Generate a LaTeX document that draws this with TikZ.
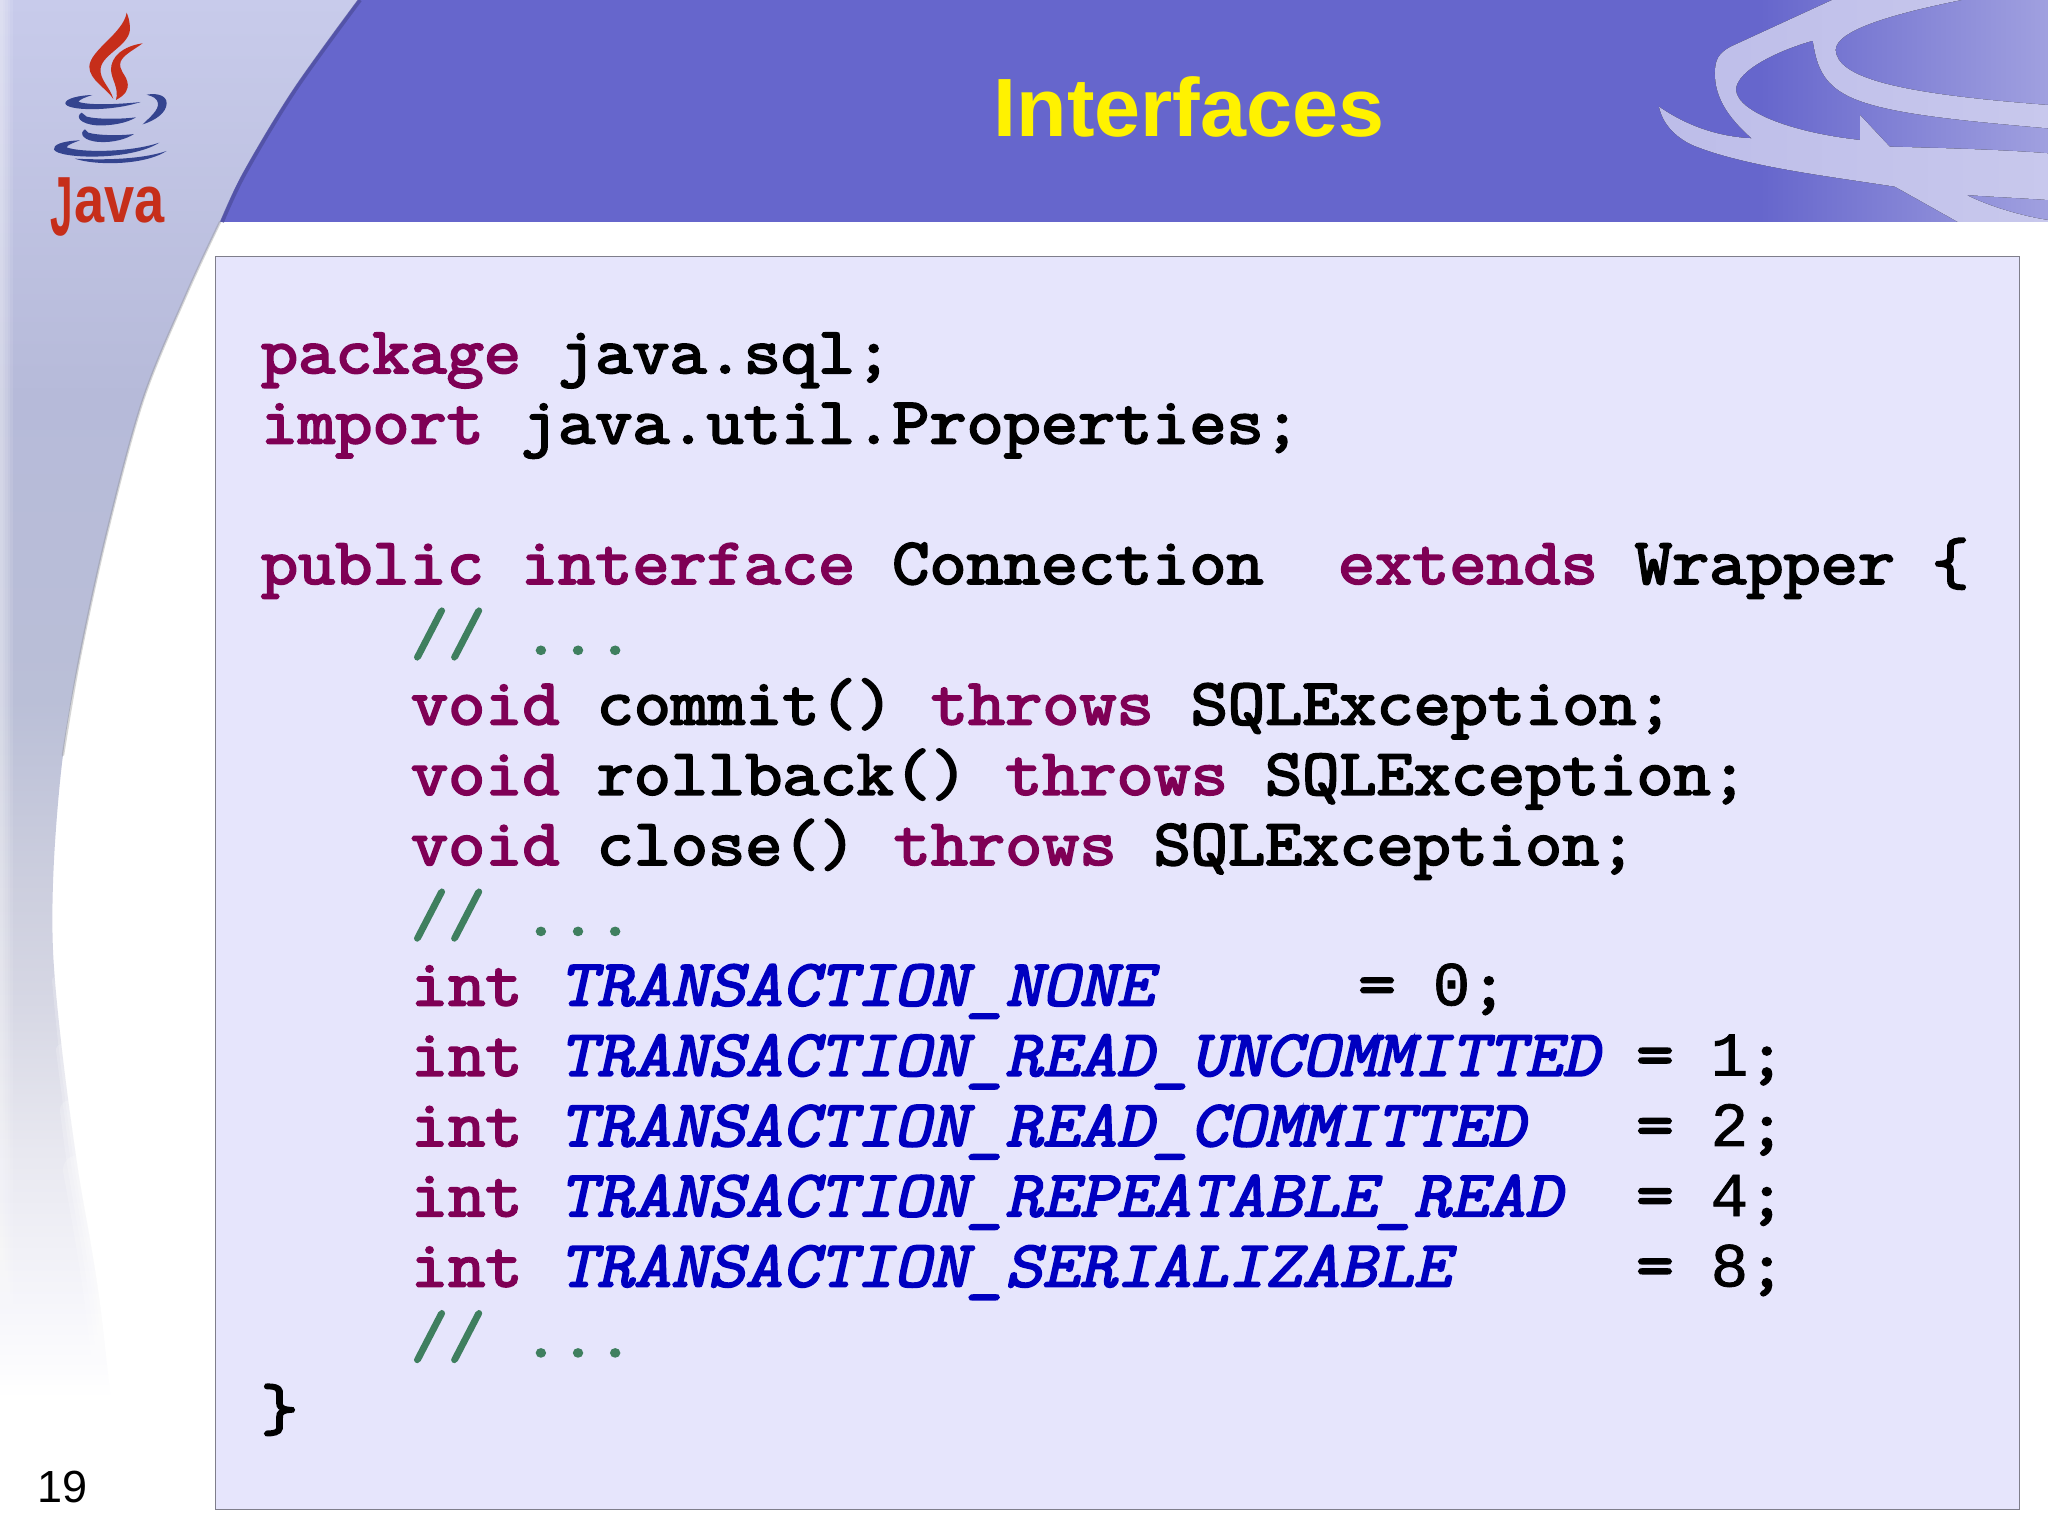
\documentclass[tikz,border=0pt]{standalone}
\usepackage{fontspec}
\setmainfont{Liberation Sans}
\newfontfamily\codefont[FakeBold=3.2,FakeStretch=1.1]{Latin Modern Mono}
\newfontfamily\codeslfont[FakeBold=3.2,FakeStretch=1.1,FakeSlant=.22]{Latin Modern Mono}
\newfontfamily\digitfont[FakeBold=1.2]{Liberation Mono}
\definecolor{kwc}{HTML}{7F0055}
\definecolor{cnc}{HTML}{0000C0}
\definecolor{cmc}{HTML}{3F7F5F}
\definecolor{headc}{HTML}{6666CC}
\definecolor{panelc}{HTML}{E6E5FC}
\definecolor{lpa}{HTML}{C8CBEB}
\definecolor{lpb}{HTML}{B6BAD9}
\definecolor{lpc}{HTML}{BABFD7}
\definecolor{lpd}{HTML}{CCCEDE}
\definecolor{lpe}{HTML}{D6D7E4}
\definecolor{lpf}{HTML}{E8E8F0}
\definecolor{lpg}{HTML}{F5F5FA}
\definecolor{javared}{HTML}{C62E1A}
\definecolor{javablue}{HTML}{34448F}
\pgfdeclareverticalshading{leftpanel}{100bp}{
 color(0bp)=(white);
 color(25bp)=(white);
 color(29.4bp)=(white);
 color(32.7bp)=(lpg);
 color(37.5bp)=(lpf);
 color(42.4bp)=(lpe);
 color(46.3bp)=(lpd);
 color(52.2bp)=(lpc);
 color(62bp)=(lpb);
 color(75bp)=(lpa);
 color(100bp)=(lpa)}
\newcommand{\kw}[1]{\textcolor{kwc}{#1}}
\newcommand{\cn}[1]{\textcolor{cnc}{\codeslfont\fontsize{65.55}{78}\selectfont #1}}
\newcommand{\cm}[1]{\textcolor{cmc}{#1}}
\newcommand{\dg}[1]{{\digitfont\fontsize{62.6}{78}\selectfont #1}}
\tikzset{
 codeline/.style={anchor=base west,inner sep=0pt,outer sep=0pt,text=black,
   font=\codefont\fontsize{65.55}{78}\selectfont\frenchspacing},
 swoosh/.style={left color=#1!96!white,right color=#1!80!white,draw=none},
 flame/.style={fill=javared,draw=none},
 cupstroke/.style={fill=javablue,draw=none}
}
\begin{document}
\begin{tikzpicture}[x=1pt,y=-1pt]
\useasboundingbox (0,0) rectangle (2048,1535);
\fill[white] (0,0) rectangle (2048,1535);
% header
\fill[headc] (200,0) rectangle (2048,222);
\shade[left color=headc,right color=headc!62!white] (1760,0) rectangle (2048,222);
% right swoosh
\begin{scope}[shift={(1500,0)},x=0.3495pt,y=-0.3333pt]
\fill[swoosh={headc!45!white}]
 (455,320) .. controls (530,375) and (620,410) .. (720,415)
 .. controls (650,350) and (615,290) .. (615,220)
 .. controls (615,180) and (625,160) .. (660,140)
 -- (950,0) -- (1320,0)
 .. controls (1130,40) and (960,90) .. (960,150)
 .. controls (965,230) and (1120,280) .. (1568,315)
 -- (1568,385)
 .. controls (1300,360) and (1100,340) .. (1000,290)
 .. controls (920,250) and (905,190) .. (895,122)
 .. controls (800,150) and (675,210) .. (675,270)
 .. controls (680,340) and (850,400) .. (1030,420)
 -- (1030,345) -- (1115,440)
 .. controls (1300,445) and (1450,450) .. (1568,460)
 -- (1568,600)
 .. controls (1500,595) and (1400,590) .. (1335,585)
 .. controls (1400,620) and (1500,650) .. (1568,660)
 -- (1568,666) -- (1310,666)
 -- (1130,560)
 .. controls (950,530) and (700,500) .. (550,435)
 .. controls (500,410) and (465,370) .. (455,320) -- cycle;
\end{scope}
\fill[white] (200,222) rectangle (2048,256);
% left panel
\shade[shading=leftpanel,draw=none] (0,0) -- plot[smooth,tension=.55] coordinates
 {(358,0) (293,90) (243,173) (220,222) (187,293) (143,400) (107,533) (80,656) (63,755) (54,860) (53,950) (62,1050) (78,1170) (100,1305) (125,1535)}
 -- (0,1535) -- cycle;
\foreach \w in {2.5,5,7.5,10,12.5}{\fill[white,opacity=.1] (0,0) rectangle (\w,1535);}
% soft lower edge
\draw[white,line width=6pt,opacity=.2,line cap=round] plot[smooth,tension=.55] coordinates {(55,980) (62,1050) (78,1170) (100,1305) (125,1535)};
\draw[white,line width=12pt,opacity=.2,line cap=round] plot[smooth,tension=.55] coordinates {(62,1050) (78,1170) (100,1305) (125,1535)};
\draw[white,line width=20pt,opacity=.2,line cap=round] plot[smooth,tension=.55] coordinates {(70,1110) (78,1170) (100,1305) (125,1535)};
\draw[white,line width=30pt,opacity=.2,line cap=round] plot[smooth,tension=.55] coordinates {(78,1170) (100,1305) (125,1535)};
% edge shadows
\draw[line width=4pt,headc!75!black,opacity=.7] plot[smooth,tension=.55] coordinates {(360,0) (295,90) (245,173) (222,222)};
\draw[line width=2.5pt,black!45,opacity=.35,line cap=round] plot[smooth,tension=.55] coordinates {(220,222) (187,293) (143,400) (107,533) (80,656) (63,755)};
% java logo
\begin{scope}[shift={(30,0)},x=.3333pt,y=-.3333pt]
\fill[flame] (290,38) .. controls (280,100) and (180,150) .. (178,200)
 .. controls (178,240) and (230,265) .. (250,297)
 .. controls (240,260) and (208,240) .. (212,205)
 .. controls (218,160) and (305,135) .. (300,80)
 .. controls (298,60) and (295,50) .. (290,38) -- cycle;
\fill[flame] (338,130) .. controls (280,138) and (242,170) .. (243,210)
 .. controls (245,240) and (268,265) .. (258,300)
 .. controls (285,285) and (298,270) .. (292,245)
 .. controls (285,220) and (265,210) .. (272,185)
 .. controls (280,165) and (310,150) .. (338,130) -- cycle;
\fill[cupstroke] (187,285) .. controls (150,286) and (106,295) .. (106,310)
 .. controls (108,332) and (240,336) .. (332,306)
 .. controls (260,314) and (170,316) .. (145,305)
 .. controls (150,298) and (165,292) .. (187,285) -- cycle;
\fill[cupstroke] (350,284) .. controls (385,278) and (410,288) .. (410,310)
 .. controls (410,338) and (375,362) .. (338,373)
 .. controls (362,350) and (386,330) .. (384,310)
 .. controls (382,295) and (370,290) .. (350,284) -- cycle;
\fill[cupstroke] (155,338) .. controls (135,350) and (150,372) .. (200,376)
 .. controls (240,378) and (290,370) .. (318,352)
 .. controls (270,358) and (200,358) .. (170,350) -- cycle;
\fill[cupstroke] (165,388) .. controls (145,400) and (160,424) .. (210,426)
 .. controls (250,428) and (290,417) .. (312,402)
 .. controls (270,408) and (200,406) .. (175,398) -- cycle;
\fill[cupstroke] (150,421) .. controls (95,423) and (68,435) .. (72,449)
 .. controls (85,476) and (300,484) .. (388,428)
 .. controls (300,458) and (150,458) .. (110,442)
 .. controls (112,435) and (130,428) .. (150,421) -- cycle;
\fill[cupstroke] (135,476) .. controls (190,496) and (340,498) .. (410,453)
 .. controls (330,480) and (210,480) .. (135,476) -- cycle;
\end{scope}
\node[anchor=base west,inner sep=0pt,text=javared,font=\bfseries] (javaword) at (50,222)
 {\scalebox{.48}[1]{\fontsize{84}{84}\selectfont\raisebox{-13pt}{J}}\hspace{2pt}\scalebox{.82}[1]{\fontsize{66}{70}\selectfont ava}};
% panel
\draw[fill=panelc,draw=black!45!panelc,line width=1.5pt] (215.5,256.5) rectangle (2019.5,1509.5);
% title and page number
\node[anchor=base,inner sep=0pt,text=yellow,font=\bfseries\fontsize{82.7}{90}\selectfont] (title) at (1189,136) {Interfaces};
\node[anchor=base west,inner sep=0pt,text=black,font=\fontsize{45}{50}\selectfont] (pagenum) at (37,1502) {19};
% code
\node[codeline] (l1) at (261,373) {\kw{package} java.sql;};
\node[codeline] (l2) at (261,443.3) {\kw{import} java.util.Properties;};
\node[codeline] (l4) at (261,583.8) {\kw{public} \kw{interface} Connection\ \ \kw{extends} Wrapper \{};
\node[codeline] (l5) at (411,654) {\cm{// ...}};
\node[codeline] (l6) at (411,724.3) {\kw{void} commit() \kw{throws} SQLException;};
\node[codeline] (l7) at (411,794.6) {\kw{void} rollback() \kw{throws} SQLException;};
\node[codeline] (l8) at (411,864.8) {\kw{void} close() \kw{throws} SQLException;};
\node[codeline] (l9) at (411,935.1) {\cm{// ...}};
\node[codeline] (l10) at (411,1005.3) {\kw{int} \cn{TRANSACTION\_NONE}\ \ \ \ \ \ \hspace{-18pt}= \dg{0};};
\node[codeline] (l11) at (411,1075.6) {\kw{int} \cn{TRANSACTION\_READ\_UNCOMMITTED} = \dg{1};};
\node[codeline] (l12) at (411,1145.9) {\kw{int} \cn{TRANSACTION\_READ\_COMMITTED}\ \ \ = \dg{2};};
\node[codeline] (l13) at (411,1216.1) {\kw{int} \cn{TRANSACTION\_REPEATABLE\_READ}\ \ = \dg{4};};
\node[codeline] (l14) at (411,1286.4) {\kw{int} \cn{TRANSACTION\_SERIALIZABLE}\ \ \ \ \ = \dg{8};};
\node[codeline] (l15) at (411,1356.6) {\cm{// ...}};
\node[codeline] (l16) at (261,1429.9) {\}};
\end{tikzpicture}
\end{document}
